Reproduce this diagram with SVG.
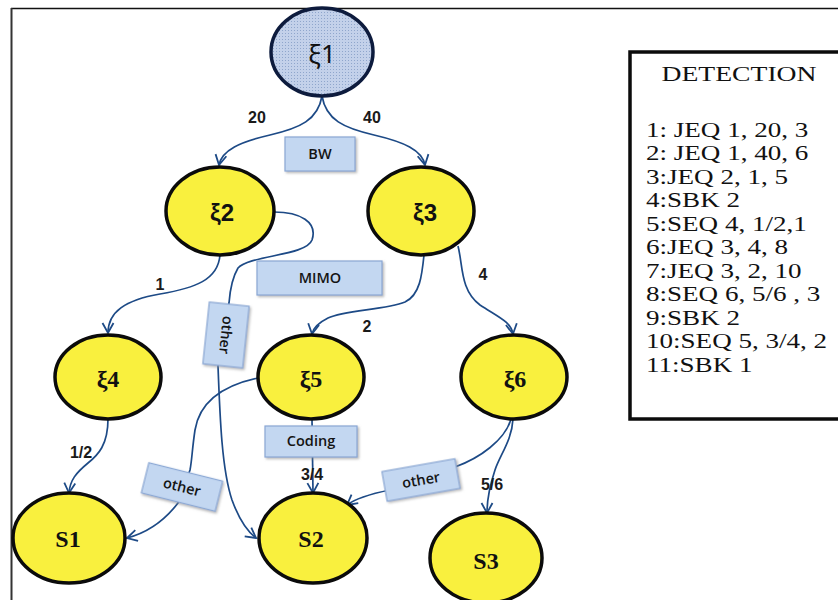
<svg xmlns="http://www.w3.org/2000/svg" width="838" height="600" viewBox="0 0 838 600">
  <defs>
    <pattern id="dots" width="3" height="3" patternUnits="userSpaceOnUse">
      <rect width="3" height="3" fill="#c3d1ea"/>
      <rect width="1" height="1" fill="#8fa6cc"/>
    </pattern>
    <marker id="arr" markerUnits="userSpaceOnUse" markerWidth="14" markerHeight="14" refX="11" refY="6" orient="auto" viewBox="0 0 14 12">
      <path d="M1,0.5 L11,6 L1,11.5" fill="none" stroke="#1d4a86" stroke-width="1.8"/>
    </marker>
    <filter id="sh" x="-20%" y="-20%" width="140%" height="140%">
      <feDropShadow dx="1.5" dy="1.5" stdDeviation="1" flood-color="#888" flood-opacity="0.6"/>
    </filter>
  </defs>
  <style>
    .node { fill: #f9f03e; stroke: #0b0b0b; stroke-width: 3.5; }
    .edge { fill: none; stroke: #1d4a86; stroke-width: 1.7; }
    .arr { marker-end: url(#arr); }
    .tag { fill: #c3d7f1; stroke: #8aa7d4; stroke-width: 1.2; filter: url(#sh); }
    .tagt { font-family: "Open Sans", "Liberation Sans", sans-serif; font-weight: 600; font-size: 14.5px; fill: #141414; text-anchor: middle; }
    .lbl { font-family: "Liberation Sans", Arial, sans-serif; font-weight: bold; font-size: 16px; fill: #1a1a1a; text-anchor: middle; }
    .xs { font-family: "Liberation Sans", Arial, sans-serif; font-weight: bold; font-size: 24px; fill: #111; text-anchor: middle; }
    .xr { font-family: "Liberation Serif", "Times New Roman", serif; font-weight: bold; font-size: 24px; fill: #111; text-anchor: middle; }
    .det { font-family: "Liberation Serif", "Times New Roman", serif; font-size: 22px; fill: #111; }
  </style>

  <!-- outer frame -->
  <line x1="11" y1="8.5" x2="838" y2="8.5" stroke="#111" stroke-width="1.6"/>
  <line x1="11.5" y1="8" x2="11.5" y2="600" stroke="#333" stroke-width="2"/>

  <!-- connectors -->
  <g id="connectors">
    <path class="edge arr" d="M322,96 C318,120 300,128 270,135 C240,142 222,150 219,165"/>
    <path class="edge arr" d="M322,96 C326,120 344,128 374,135 C404,142 422,150 425,165"/>
    <path class="edge arr" d="M220,255 C218,280 195,288 160,294 C125,300 108,312 108,333"/>
    <path class="edge arr" d="M274,212 C300,212 318,222 312,240 C306,256 250,255 238,268 C232,278 230,290 229,303 L218,366 C220,420 222,470 232,500 C240,522 248,532 256,538"/>
    <path class="edge arr" d="M424,255 C422,275 420,295 405,302 C385,310 345,310 328,318 C318,323 313,328 312,334"/>
    <path class="edge arr" d="M458,246 C463,265 460,290 480,305 C500,318 511,322 513,334"/>
    <path class="edge arr" d="M108,419 C108,445 98,455 88,463 C76,473 70,480 69,493"/>
    <path class="edge arr" d="M258,378 C225,385 200,400 195,430 C192,450 192,460 190,470 L178,503 C165,520 150,532 127,538"/>
    <path class="edge arr" d="M312,419 L313,493"/>
    <path class="edge arr" d="M511,419 C505,440 480,458 455,467 L390,490 C370,494 356,498 347,505"/>
    <path class="edge arr" d="M513,419 C512,440 500,455 495,470 C490,485 487,500 487,513"/>
  </g>

  <!-- edge weights -->
  <g id="weights">
    <text class="lbl" x="257" y="123">20</text>
    <text class="lbl" x="372" y="123">40</text>
    <text class="lbl" x="160" y="290">1</text>
    <text class="lbl" x="367" y="332">2</text>
    <text class="lbl" x="483" y="280">4</text>
    <text class="lbl" x="81" y="458">1/2</text>
    <text class="lbl" x="312" y="480">3/4</text>
    <text class="lbl" x="492" y="490">5/6</text>
  </g>

  <!-- edge tags -->
  <g id="tag-bw">
    <rect class="tag" x="285" y="137" width="70" height="34"/>
    <text class="tagt" x="320" y="159">BW</text>
  </g>
  <g id="tag-mimo">
    <rect class="tag" x="257" y="261" width="125" height="34"/>
    <text class="tagt" x="320" y="283">MIMO</text>
  </g>
  <g id="tag-coding">
    <rect class="tag" x="265" y="426" width="92" height="31"/>
    <text class="tagt" x="311" y="446">Coding</text>
  </g>
  <g id="tag-other-1" transform="translate(226,335) rotate(6)">
    <rect class="tag" x="-20" y="-31" width="40" height="62"/>
    <text class="tagt" transform="rotate(90)" x="0" y="5">other</text>
  </g>
  <g id="tag-other-2" transform="translate(182,487) rotate(14)">
    <rect class="tag" x="-38" y="-15.5" width="76" height="31"/>
    <text class="tagt" x="0" y="5">other</text>
  </g>
  <g id="tag-other-3" transform="translate(421,480) rotate(-10)">
    <rect class="tag" x="-37" y="-15" width="74" height="30"/>
    <text class="tagt" x="0" y="5">other</text>
  </g>

  <!-- nodes -->
  <g id="n-xi1">
    <ellipse cx="322" cy="52" rx="51" ry="44" fill="url(#dots)" stroke="#0d1b3d" stroke-width="3.5"/>
    <text x="322" y="63" font-family="'Noto Sans', 'Liberation Sans', sans-serif" font-size="26" fill="#111" text-anchor="middle">ξ1</text>
  </g>
  <g id="n-xi2">
    <ellipse class="node" cx="220" cy="211" rx="54" ry="44"/>
    <text class="xs" x="222" y="221">ξ2</text>
  </g>
  <g id="n-xi3">
    <ellipse class="node" cx="421" cy="211" rx="53" ry="44"/>
    <text class="xs" x="425" y="221">ξ3</text>
  </g>
  <g id="n-xi4">
    <ellipse class="node" cx="108" cy="377" rx="53" ry="42"/>
    <text class="xr" x="108" y="387">ξ4</text>
  </g>
  <g id="n-xi5">
    <ellipse class="node" cx="311" cy="377" rx="53" ry="42"/>
    <text class="xr" x="311" y="387">ξ5</text>
  </g>
  <g id="n-xi6">
    <ellipse class="node" cx="514" cy="377" rx="53" ry="42"/>
    <text class="xr" x="515" y="387">ξ6</text>
  </g>
  <g id="n-s1">
    <ellipse class="node" cx="69" cy="538" rx="56" ry="45"/>
    <text class="xr" x="68" y="547">S1</text>
  </g>
  <g id="n-s2">
    <ellipse class="node" cx="313" cy="538" rx="54" ry="45"/>
    <text class="xr" x="311" y="547">S2</text>
  </g>
  <g id="n-s3">
    <ellipse class="node" cx="486" cy="558" rx="56" ry="45"/>
    <text class="xr" x="486" y="569">S3</text>
  </g>

  <!-- detection listing -->
  <g id="detection">
    <rect x="630" y="52" width="220" height="367" fill="#fff" stroke="#0b0b0b" stroke-width="3.5"/>
    <text class="det" x="739" y="81" text-anchor="middle" textLength="155" lengthAdjust="spacingAndGlyphs">DETECTION</text>
    <g transform="translate(646,0) scale(1.23,1)">
      <text class="det" x="0" y="137">1: JEQ 1, 20, 3</text>
      <text class="det" x="0" y="160.5">2: JEQ 1, 40, 6</text>
      <text class="det" x="0" y="184">3:JEQ 2, 1, 5</text>
      <text class="det" x="0" y="207.5">4:SBK 2</text>
      <text class="det" x="0" y="231">5:SEQ 4, 1/2,1</text>
      <text class="det" x="0" y="254.5">6:JEQ 3, 4, 8</text>
      <text class="det" x="0" y="278">7:JEQ 3, 2, 10</text>
      <text class="det" x="0" y="301.5">8:SEQ 6, 5/6 , 3</text>
      <text class="det" x="0" y="325">9:SBK 2</text>
      <text class="det" x="0" y="348.5">10:SEQ 5, 3/4, 2</text>
      <text class="det" x="0" y="372">11:SBK 1</text>
    </g>
  </g>
</svg>
